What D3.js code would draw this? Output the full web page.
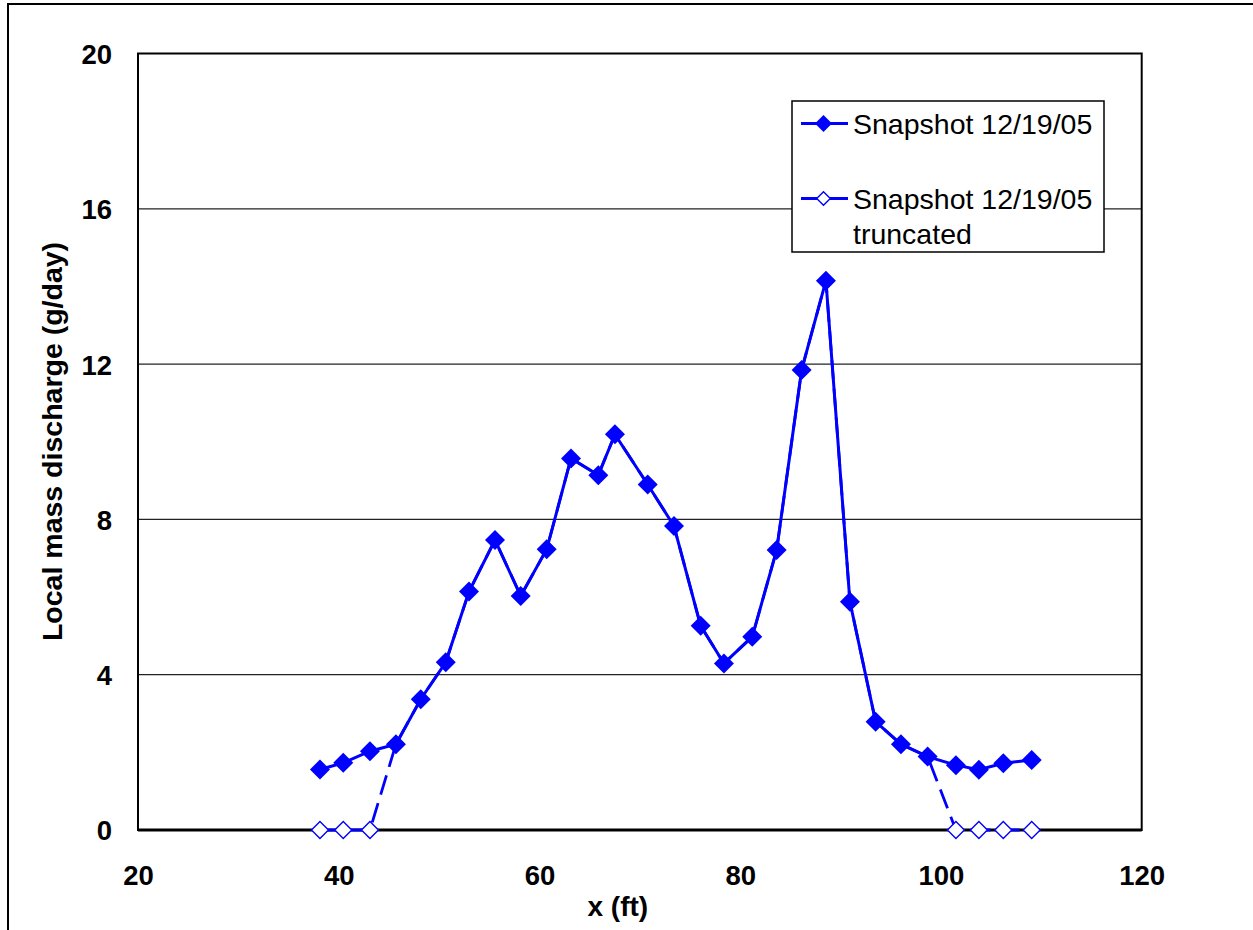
<!DOCTYPE html>
<html>
<head>
<meta charset="utf-8">
<script src="https://cdn.jsdelivr.net/npm/d3@7"></script>
<style>
  html, body { margin: 0; padding: 0; background: #fff; }
  svg { display: block; }
  text { font-family: "Liberation Sans", Arial, sans-serif; fill: #000; }
</style>
</head>
<body>
<svg id="chart" width="1253" height="930"></svg>
<script>
// ---- Data ----
const xValues = [38.13, 40.45, 43.11, 45.70, 48.17, 50.66, 52.98, 55.57, 58.13, 60.72,
                 63.14, 65.86, 67.52, 70.78, 73.40, 76.06, 78.38, 81.20, 83.63, 86.12,
                 88.54, 90.93, 93.49, 96.01, 98.67, 101.49, 103.78, 106.21, 109.04];
const snapshot = [1.56, 1.73, 2.03, 2.21, 3.37, 4.32, 6.14, 7.47, 6.03, 7.23,
                  9.57, 9.14, 10.19, 8.90, 7.83, 5.26, 4.29, 4.98, 7.21, 11.85,
                  14.15, 5.88, 2.79, 2.21, 1.89, 1.67, 1.55, 1.72, 1.80];
const truncated = [0, 0, 0, 2.21, 3.37, 4.32, 6.14, 7.47, 6.03, 7.23,
                   9.57, 9.14, 10.19, 8.90, 7.83, 5.26, 4.29, 4.98, 7.21, 11.85,
                   14.15, 5.88, 2.79, 2.21, 1.89, 0, 0, 0, 0];
const xTicks = [20, 40, 60, 80, 100, 120];
const yTicks = [0, 4, 8, 12, 16, 20];
const seriesNames = ["Snapshot 12/19/05", "Snapshot 12/19/05 truncated"];
const xLabel = "x (ft)";
const yLabel = "Local mass discharge (g/day)";

// ---- Layout ----
const svg = d3.select("#chart");
const L = 138, R = 1141.7, T = 53.5, B = 830;
const x = d3.scaleLinear().domain([20, 120]).range([L, R]);
const y = d3.scaleLinear().domain([0, 20]).range([B, T]);
const blue = "#0000FF";

// outer frame
svg.append("rect").attr("x", 8).attr("y", 4).attr("width", 1400).attr("height", 1100)
  .attr("fill", "none").attr("stroke", "#000").attr("stroke-width", 2);

// gridlines
svg.append("g").selectAll("line").data(yTicks.filter(d => d > 0 && d < 20)).join("line")
  .attr("x1", L).attr("x2", R).attr("y1", d => y(d)).attr("y2", d => y(d))
  .attr("stroke", "#222").attr("stroke-width", 1.2);

// plot border
svg.append("rect").attr("x", L).attr("y", T).attr("width", R - L).attr("height", B - T)
  .attr("fill", "none").attr("stroke", "#000").attr("stroke-width", 2);
svg.append("line").attr("x1", L).attr("x2", R).attr("y1", B).attr("y2", B)
  .attr("stroke", "#000").attr("stroke-width", 3);

// axes (tick labels only)
const xAxis = d3.axisBottom(x).tickValues(xTicks).tickSize(0).tickPadding(0);
const gx = svg.append("g").attr("transform", `translate(0,${B})`).call(xAxis);
gx.select(".domain").remove();
gx.selectAll("text").attr("dy", null).attr("y", 55)
  .style("font-size", "27.5px").style("font-weight", "bold").style("font-family", '"Liberation Sans", Arial, sans-serif');

const yAxis = d3.axisLeft(y).tickValues(yTicks).tickSize(0).tickPadding(0);
const gy = svg.append("g").attr("transform", `translate(112,0)`).call(yAxis);
gy.select(".domain").remove();
gy.selectAll("text").attr("x", 0).attr("dy", "0.36em")
  .style("font-size", "27.5px").style("font-weight", "bold").style("font-family", '"Liberation Sans", Arial, sans-serif');

// axis titles
svg.append("text").attr("x", (L + R) / 2 - 22).attr("y", 916).attr("text-anchor", "middle")
  .style("font-size", "28px").style("font-weight", "bold").text(xLabel);
svg.append("text").attr("transform", `translate(62,${441.5}) rotate(-90)`).attr("text-anchor", "middle")
  .style("font-size", "28.5px").style("font-weight", "bold").text(yLabel);

// diamond path generator
function diamond(cx, cy, r) {
  return `M${cx},${cy - r}L${cx + r},${cy}L${cx},${cy + r}L${cx - r},${cy}Z`;
}

const line = d3.line().x((d, i) => x(xValues[i])).y(d => y(d));

// truncated series (dashed, hollow markers)
svg.append("path").datum(truncated).attr("d", line)
  .attr("fill", "none").attr("stroke", blue).attr("stroke-width", 2.8)
  .attr("stroke-dasharray", "20,9");
svg.append("g").selectAll("path").data(truncated.map((v, i) => ({v, i})).filter(d => d.v === 0)).join("path")
  .attr("d", d => diamond(x(xValues[d.i]), y(d.v), 8.5))
  .attr("fill", "#fff").attr("stroke", blue).attr("stroke-width", 1.4);

// main series
svg.append("path").datum(snapshot).attr("d", line)
  .attr("fill", "none").attr("stroke", blue).attr("stroke-width", 3);
svg.append("g").selectAll("path").data(snapshot).join("path")
  .attr("d", (d, i) => diamond(x(xValues[i]), y(d), 10))
  .attr("fill", blue).attr("stroke", "none");

// legend
const lg = svg.append("g");
lg.append("rect").attr("x", 792).attr("y", 101).attr("width", 312).attr("height", 151)
  .attr("fill", "#fff").attr("stroke", "#000").attr("stroke-width", 1.5);
lg.append("line").attr("x1", 801).attr("x2", 848).attr("y1", 123.5).attr("y2", 123.5)
  .attr("stroke", blue).attr("stroke-width", 2.8);
lg.append("path").attr("d", diamond(823.5, 123.5, 8.5)).attr("fill", blue);
lg.append("text").attr("x", 853).attr("y", 134).style("font-size", "28.5px").text(seriesNames[0]);

lg.append("line").attr("x1", 801).attr("x2", 848).attr("y1", 198.5).attr("y2", 198.5)
  .attr("stroke", blue).attr("stroke-width", 2.8).attr("stroke-dasharray", "20,9");
lg.append("path").attr("d", diamond(823.5, 198.5, 6.8)).attr("fill", "#fff")
  .attr("stroke", blue).attr("stroke-width", 1.4);
const t2 = lg.append("text").attr("x", 853).attr("y", 208.5).style("font-size", "28.5px");
t2.append("tspan").attr("x", 853).text("Snapshot 12/19/05");
t2.append("tspan").attr("x", 853).attr("dy", 35).text("truncated");
</script>
</body>
</html>
